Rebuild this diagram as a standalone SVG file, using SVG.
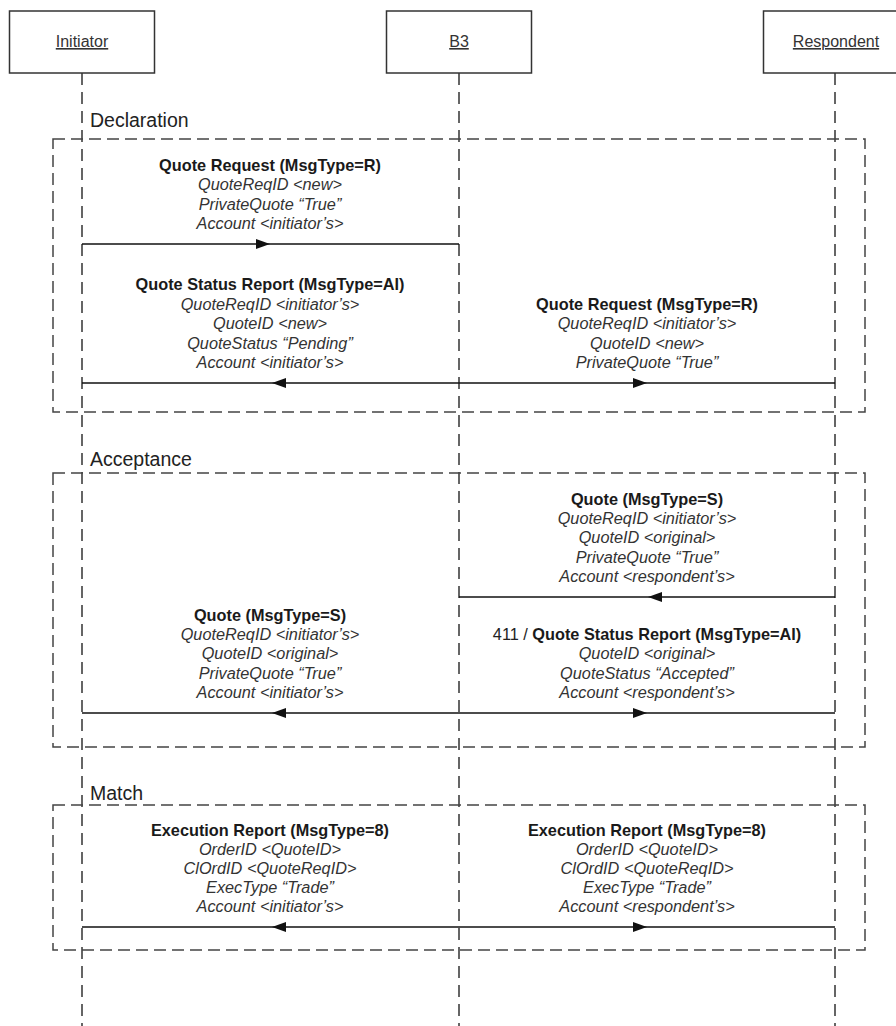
<svg xmlns="http://www.w3.org/2000/svg" width="896" height="1026" viewBox="0 0 896 1026">
<style>
  .box{fill:#fff;stroke:#333;stroke-width:1.5}
  .actor{font-family:"Liberation Sans",Arial,sans-serif;font-size:16px;fill:#333;text-decoration:underline;text-anchor:middle}
  .life{stroke:#333;stroke-width:1.5;stroke-dasharray:12,7;fill:none}
  .frame{fill:none;stroke:#444;stroke-width:1.5;stroke-dasharray:12,6}
  .flabel{font-family:"Liberation Sans",Arial,sans-serif;font-size:19.5px;fill:#222}
  .msg{stroke:#111;stroke-width:1.5;fill:none}
  .t{font-family:"Liberation Sans",Arial,sans-serif;font-size:16.3px;text-anchor:middle}
  .b{font-weight:bold;fill:#1a1a1a}
  .i{font-style:italic;fill:#333}
  .n{fill:#222}
  .head{fill:#111}
</style>
<g id="lifelines">
  <line class="life" x1="82" y1="73" x2="82" y2="1026"/>
  <line class="life" x1="459" y1="73" x2="459" y2="1026"/>
  <line class="life" x1="835" y1="73" x2="835" y2="1026"/>
</g>
<g id="initiator">
  <rect class="box" x="9.5" y="11" width="145" height="62"/>
  <text class="actor" x="82" y="47">Initiator</text>
</g>
<g id="b3">
  <rect class="box" x="386.5" y="11" width="145" height="62"/>
  <text class="actor" x="459" y="47">B3</text>
</g>
<g id="respondent">
  <rect class="box" x="763.5" y="11" width="145" height="62"/>
  <text class="actor" x="836" y="47">Respondent</text>
</g>
<g id="declaration">
  <rect class="frame" x="53" y="139" width="812" height="273"/>
  <text class="flabel" x="90" y="127">Declaration</text>
</g>
<g id="acceptance">
  <rect class="frame" x="53" y="473" width="812" height="274"/>
  <text class="flabel" x="90" y="466">Acceptance</text>
</g>
<g id="match">
  <rect class="frame" x="53" y="805" width="812" height="145"/>
  <text class="flabel" x="90" y="800">Match</text>
</g>
<g id="connectors">
  <line class="msg" x1="82" y1="244" x2="459" y2="244"/>
  <polygon class="head" points="256,239 270,244 256,249"/>
  <line class="msg" x1="82" y1="383" x2="835" y2="383"/>
  <polygon class="head" points="286,378 272,383 286,388"/>
  <polygon class="head" points="633,378 647,383 633,388"/>
  <line class="msg" x1="459" y1="597" x2="835" y2="597"/>
  <polygon class="head" points="662,592 648,597 662,602"/>
  <line class="msg" x1="82" y1="713" x2="835" y2="713"/>
  <polygon class="head" points="286,708 272,713 286,718"/>
  <polygon class="head" points="633,708 647,713 633,718"/>
  <line class="msg" x1="82" y1="927" x2="835" y2="927"/>
  <polygon class="head" points="286,922 272,927 286,932"/>
  <polygon class="head" points="633,922 647,927 633,932"/>
</g>
<g id="msg-quote-request-1">
  <text class="t b" x="270" y="171">Quote Request (MsgType=R)</text>
  <text class="t i" x="270" y="190">QuoteReqID &lt;new&gt;</text>
  <text class="t i" x="270" y="210">PrivateQuote “True”</text>
  <text class="t i" x="270" y="229">Account &lt;initiator’s&gt;</text>
</g>
<g id="msg-quote-status-1">
  <text class="t b" x="270" y="290">Quote Status Report (MsgType=AI)</text>
  <text class="t i" x="270" y="310">QuoteReqID &lt;initiator’s&gt;</text>
  <text class="t i" x="270" y="329">QuoteID &lt;new&gt;</text>
  <text class="t i" x="270" y="349">QuoteStatus “Pending”</text>
  <text class="t i" x="270" y="368">Account &lt;initiator’s&gt;</text>
</g>
<g id="msg-quote-request-2">
  <text class="t b" x="647" y="310">Quote Request (MsgType=R)</text>
  <text class="t i" x="647" y="329">QuoteReqID &lt;initiator’s&gt;</text>
  <text class="t i" x="647" y="349">QuoteID &lt;new&gt;</text>
  <text class="t i" x="647" y="368">PrivateQuote “True”</text>
</g>
<g id="msg-quote-1">
  <text class="t b" x="647" y="505">Quote (MsgType=S)</text>
  <text class="t i" x="647" y="524">QuoteReqID &lt;initiator’s&gt;</text>
  <text class="t i" x="647" y="543">QuoteID &lt;original&gt;</text>
  <text class="t i" x="647" y="563">PrivateQuote “True”</text>
  <text class="t i" x="647" y="582">Account &lt;respondent’s&gt;</text>
</g>
<g id="msg-quote-2">
  <text class="t b" x="270" y="621">Quote (MsgType=S)</text>
  <text class="t i" x="270" y="640">QuoteReqID &lt;initiator’s&gt;</text>
  <text class="t i" x="270" y="659">QuoteID &lt;original&gt;</text>
  <text class="t i" x="270" y="679">PrivateQuote “True”</text>
  <text class="t i" x="270" y="698">Account &lt;initiator’s&gt;</text>
</g>
<g id="msg-quote-status-2">
  <text class="t" x="647" y="640"><tspan class="n">411 / </tspan><tspan class="b">Quote Status Report (MsgType=AI)</tspan></text>
  <text class="t i" x="647" y="659">QuoteID &lt;original&gt;</text>
  <text class="t i" x="647" y="679">QuoteStatus “Accepted”</text>
  <text class="t i" x="647" y="698">Account &lt;respondent’s&gt;</text>
</g>
<g id="msg-exec-1">
  <text class="t b" x="270" y="836">Execution Report (MsgType=8)</text>
  <text class="t i" x="270" y="855">OrderID &lt;QuoteID&gt;</text>
  <text class="t i" x="270" y="874">ClOrdID &lt;QuoteReqID&gt;</text>
  <text class="t i" x="270" y="893">ExecType “Trade”</text>
  <text class="t i" x="270" y="912">Account &lt;initiator’s&gt;</text>
</g>
<g id="msg-exec-2">
  <text class="t b" x="647" y="836">Execution Report (MsgType=8)</text>
  <text class="t i" x="647" y="855">OrderID &lt;QuoteID&gt;</text>
  <text class="t i" x="647" y="874">ClOrdID &lt;QuoteReqID&gt;</text>
  <text class="t i" x="647" y="893">ExecType “Trade”</text>
  <text class="t i" x="647" y="912">Account &lt;respondent’s&gt;</text>
</g>
</svg>
